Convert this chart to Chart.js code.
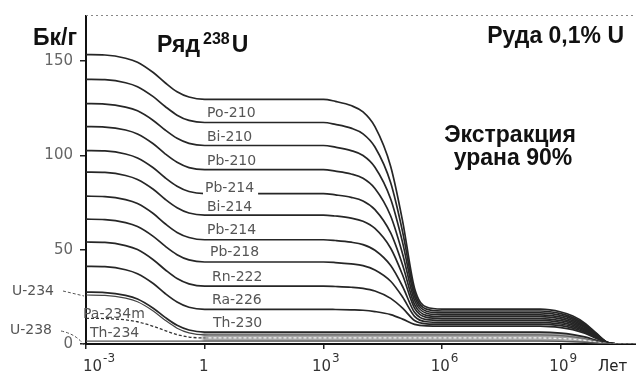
<!DOCTYPE html>
<html><head><meta charset="utf-8">
<script src="https://cdn.jsdelivr.net/npm/chart.js@4/dist/chart.umd.min.js"></script>
<style>html,body{margin:0;padding:0;background:#fff;}#wrap{width:636px;height:374px;position:relative;}</style>
</head><body><div id="wrap"><canvas id="c" width="636" height="374"></canvas></div>
<script>
// time points, years
const years = [0.001,0.003,0.01,0.02,0.05,0.1,0.2,0.4,1,1000,2000,5000,1e4,2e4,5e4,1e5,2e5,4e5,1e6,3e8,1e9,2e9,4e9,8e9,1.5e10,3e10,7.9e10];
const xTicks = [1e-3, 1, 1e3, 1e6, 1e9];
const yTicks = [0, 50, 100, 150];
const seriesNames = ['U-238','Th-234','Pa-234m','U-234','Th-230','Ra-226','Rn-222','Po-218','Pb-214','Bi-214','Po-214','Pb-210','Bi-210','Po-210'];
// cumulative activity (Bq/g), top edge of each nuclide band
const U238   = [1.5,1.5,1.5,1.5,1.5,1.5,1.5,1.5,1.5, 1.5,1.5,1.5,1.5,1.5,1.5,1.5,1.5,1.5,1.5, 1.5,1.4,1.2,0.9,0.5,0.1,0,0];
const Th234  = [13.6,13.5,12.8,11.8,9.4,7.1,5.0,3.7,3.2, 3.2,3.2,3.2,3.2,3.2,3.2,3.2,3.2,3.2,3.2, 3.2,2.9,2.6,1.9,1.0,0.2,0,0];
const Pa234m = [26.0,25.8,24.3,22.4,17.5,12.6,8.4,5.9,4.8, 4.8,4.8,4.8,4.8,4.8,4.8,4.8,4.8,4.8,4.8, 4.8,4.4,3.8,2.9,1.4,0.2,0,0];
const U234   = [27.5,27.3,25.8,23.9,19.0,14.1,9.9,7.4,6.3, 6.3,6.3,6.3,6.3,6.3,6.3,6.3,6.3,6.3,6.3, 6.3,5.8,5.0,3.8,1.9,0.3,0,0];
const Th230  = [41.2,41.0,39.4,37.3,32.1,26.8,22.3,19.5,18.4, 18.4,18.3,18.1,17.9,17.2,15.6,13.2,10.4,9.6,9.5, 9.5,8.7,7.6,5.7,2.9,0.5,0,0];
const Ra226  = [54.1,53.9,52.2,50.1,44.7,39.4,34.7,31.9,30.7, 30.7,30.5,30.1,29.5,28.1,24.2,19.0,12.5,10.7,10.5, 10.5,9.7,8.4,6.3,3.2,0.5,0,0];
const Rn222  = [66.2,66.0,64.4,62.3,57.1,51.9,47.4,44.6,43.5, 43.5,43.2,42.5,41.6,39.3,33.3,24.9,14.7,11.8,11.5, 11.5,10.6,9.2,6.9,3.5,0.6,0,0];
const Po218  = [78.4,78.2,76.6,74.5,69.2,63.8,59.2,56.5,55.3, 55.3,54.9,54.0,52.7,49.7,41.6,30.5,16.8,12.9,12.5, 12.5,11.5,10.0,7.5,3.8,0.6,0,0];
const Pb214  = [91.2,91.0,89.4,87.3,82.1,76.8,72.3,69.5,68.4, 68.4,67.9,66.8,65.1,61.3,50.8,36.6,19.0,14.1,13.5, 13.5,12.4,10.8,8.1,4.1,0.7,0,0];
const Bi214  = [102.6,102.4,100.8,98.7,93.5,88.2,83.7,80.9,79.8, 79.8,79.1,77.8,75.9,71.3,58.9,41.9,21.0,15.2,14.5, 14.5,13.3,11.6,8.7,4.4,0.7,0,0];
const Po214  = [115.3,115.1,113.5,111.4,106.2,100.9,96.4,93.6,92.5, 92.5,91.7,90.2,87.9,82.5,67.9,47.8,23.2,16.3,15.5, 15.5,14.3,12.4,9.3,4.7,0.8,0,0];
const Pb210  = [127.5,127.3,125.7,123.7,118.6,113.5,109.1,106.4,105.3, 105.3,104.4,102.6,100.0,93.8,76.9,53.8,25.4,17.4,16.5, 16.5,15.2,13.2,9.9,5.0,0.8,0,0];
const Bi210  = [140.4,140.2,138.6,136.5,131.2,126.0,121.4,118.6,117.5, 117.5,116.5,114.5,111.5,104.5,85.5,59.5,27.5,18.5,17.5, 17.5,16.1,14.0,10.5,5.3,0.9,0,0];
const Po210  = [153.5,153.3,151.6,149.5,144.0,138.6,133.8,131.0,129.8, 129.8,128.7,126.5,123.1,115.3,94.2,65.2,29.6,19.6,18.5, 18.5,17.0,14.8,11.1,5.6,0.9,0,0];

const allSeries = [U238,Th234,Pa234m,U234,Th230,Ra226,Rn222,Po218,Pb214,Bi214,Po214,Pb210,Bi210,Po210];
const SANS = '"DejaVu Sans", sans-serif';
const BOLD = '"Liberation Sans", Arial, sans-serif';

function bandGradient(ctx, leftCol, rightCol, splitYear) {
  const chart = ctx.chart;
  const ca = chart.chartArea;
  if (!ca) return rightCol;
  const xs = chart.scales.x;
  const g = chart.ctx.createLinearGradient(ca.left, 0, ca.right, 0);
  let p = (xs.getPixelForValue(splitYear) - ca.left) / (ca.right - ca.left);
  p = Math.max(0, Math.min(0.98, p));
  g.addColorStop(0, leftCol); g.addColorStop(p, leftCol);
  g.addColorStop(p + 0.01, rightCol); g.addColorStop(1, rightCol);
  return g;
}

const datasets = allSeries.map((arr, k) => {
  const ds = {
    label: seriesNames[k],
    data: years.map((x, i) => ({x: x, y: arr[i]})),
    borderColor: '#262626',
    borderWidth: 1.7,
    pointRadius: 0,
    cubicInterpolationMode: 'monotone',
    fill: false
  };
  if (k === 0) { ds.borderColor = '#555'; ds.borderWidth = 1.4; }
  if (k === 1) { ds.borderDash = [3, 2]; ds.borderWidth = 1.3;
    ds.borderColor = (c) => bandGradient(c, '#333', '#f2f2f2', 0.9); }
  if (k === 2) { ds.borderColor = (c) => bandGradient(c, '#444', '#666', 0.9); ds.borderWidth = 1.2; }
  if (k === 3) { ds.fill = {target: 0};
    ds.backgroundColor = (c) => bandGradient(c, 'rgba(255,255,255,0)', '#a6a6a6', 0.7); }
  return ds;
});

const deco = {
  id: 'deco',
  afterDraw(chart) {
    const ctx = chart.ctx, ca = chart.chartArea, xs = chart.scales.x;
    ctx.save();
    // dotted top frame
    ctx.strokeStyle = '#888'; ctx.lineWidth = 1; ctx.setLineDash([2, 3]);
    ctx.beginPath(); ctx.moveTo(ca.left, ca.top - 0.5); ctx.lineTo(ca.right, ca.top - 0.5); ctx.stroke();
    ctx.setLineDash([]);
    // x tick labels with exponents
    ctx.fillStyle = '#333'; ctx.textBaseline = 'alphabetic';
    xTicks.forEach(v => {
      const px = xs.getPixelForValue(v);
      const e = Math.round(Math.log10(v));
      ctx.font = '15px ' + SANS;
      if (e === 0) { ctx.textAlign = 'center'; ctx.fillText('1', px - 1, 371); return; }
      const w = ctx.measureText('10').width;
      const left = (v === 1e-3) ? px - 3 : px - 2 - w / 2;
      ctx.textAlign = 'left'; ctx.fillText('10', left, 371);
      ctx.font = '12px ' + SANS; ctx.fillText(String(e), left + w + 1, 362);
    });
    ctx.font = '15px ' + SANS; ctx.textAlign = 'left'; ctx.fillStyle = '#222';
    ctx.fillText('Лет', 598, 371);
    // titles
    ctx.fillStyle = '#111';
    ctx.font = 'bold 23px ' + BOLD; ctx.textAlign = 'left';
    ctx.fillText('Бк/г', 33, 45);
    ctx.fillText('Ряд', 157, 52);
    let x1 = 157 + ctx.measureText('Ряд').width + 3;
    ctx.font = 'bold 16px ' + BOLD; ctx.fillText('238', x1, 44);
    let x2 = x1 + ctx.measureText('238').width + 2;
    ctx.font = 'bold 23px ' + BOLD; ctx.fillText('U', x2, 52);
    ctx.textAlign = 'right'; ctx.fillText('Руда 0,1% U', 624, 43);
    ctx.textAlign = 'center';
    ctx.fillText('Экстракция', 510, 142);
    ctx.fillText('урана 90%', 513, 165);
    // band labels
    ctx.font = '14px ' + SANS; ctx.textAlign = 'left'; ctx.textBaseline = 'middle';
    const labels = [
      ['Po-210', 207, 113], ['Bi-210', 207, 137], ['Pb-210', 207, 161], ['Pb-214', 205, 188, true],
      ['Bi-214', 207, 207], ['Pb-214', 207, 230], ['Pb-218', 210, 252], ['Rn-222', 212, 277],
      ['Ra-226', 212, 300], ['Th-230', 213, 323], ['Pa-234m', 83, 314], ['Th-234', 90, 333],
      ['U-234', 12, 291], ['U-238', 10, 330]
    ];
    labels.forEach(l => {
      if (l[3]) { ctx.fillStyle = '#fff'; ctx.fillRect(l[1] - 2, l[2] - 8, ctx.measureText(l[0]).width + 6, 16); }
      ctx.fillStyle = '#555'; ctx.fillText(l[0], l[1], l[2]);
    });
    // leaders
    ctx.strokeStyle = '#555'; ctx.lineWidth = 1; ctx.setLineDash([3, 2]);
    ctx.beginPath(); ctx.moveTo(63, 291); ctx.lineTo(84, 296); ctx.stroke();
    ctx.beginPath(); ctx.moveTo(61, 331); ctx.quadraticCurveTo(76, 334, 84, 345); ctx.stroke();
    ctx.restore();
  }
};

new Chart(document.getElementById('c'), {
  type: 'line',
  data: { datasets },
  options: {
    responsive: false, animation: false,
    layout: { padding: { top: 14, left: 0, right: 0, bottom: 0 } },
    plugins: { legend: { display: false }, tooltip: { enabled: false } },
    scales: {
      x: {
        type: 'logarithmic', min: 1e-3, max: 7.9e10,
        afterBuildTicks: s => { s.ticks = xTicks.map(v => ({ value: v })); },
        afterFit: s => { s.height = 30; },
        ticks: { display: false },
        grid: { drawOnChartArea: false, drawTicks: true, tickLength: 5, color: '#222', lineWidth: 1.5 },
        border: { display: true, color: '#111', width: 2 }
      },
      y: {
        type: 'linear', min: 0, max: 174,
        afterBuildTicks: s => { s.ticks = yTicks.map(v => ({ value: v })); },
        afterFit: s => { s.width = 86; },
        ticks: { color: '#666', font: { family: 'DejaVu Sans', size: 15 }, padding: 7 },
        grid: { drawOnChartArea: false, drawTicks: true, tickLength: 6, color: '#222', lineWidth: 1.5 },
        border: { display: true, color: '#111', width: 2 }
      }
    }
  },
  plugins: [deco]
});
</script></body></html>
